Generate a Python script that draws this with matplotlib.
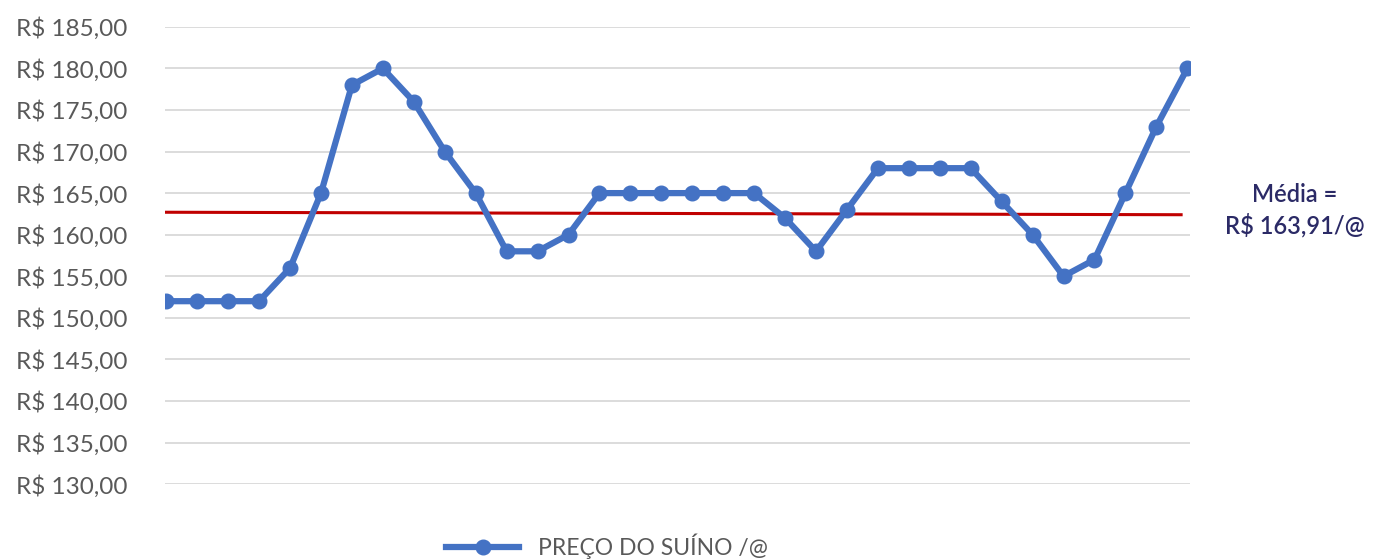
import numpy as np
import matplotlib.pyplot as plt

# preço do suíno por arroba
precos = [152, 152, 152, 152, 156, 165, 178, 180, 176, 170, 165, 158, 158, 160,
          165, 165, 165, 165, 165, 165, 162, 158, 163, 168, 168, 168, 168, 164,
          160, 155, 157, 165, 173, 180]
media_linha = [162.7, 162.4]   # linha vermelha, inicio e fim
y_ticks = [130, 135, 140, 145, 150, 155, 160, 165, 170, 175, 180, 185]
rotulo_serie = "PREÇO DO SUÍNO /@"
texto_media = "Média =\nR$ 163,91/@"

x = np.arange(len(precos))

fig = plt.figure(figsize=(13.73, 5.59), dpi=100)
ax = fig.add_axes([0.120, 0.134, 0.747, 0.818])

for yv in y_ticks:
    ax.axhline(yv, color='#d9d9d9', lw=1.3, zorder=0)

ax.plot([x[0] - 0.2, x[-1] - 0.2], media_linha, color='#c00000', lw=2.2, zorder=2)
line, = ax.plot(x, precos, '-o', color='#4472c4', lw=4.5, markersize=10.5,
                zorder=3, label=rotulo_serie)

ax.set_xlim(-0.05, len(precos) - 1 + 0.1)
ax.set_ylim(130, 185)
ax.set_yticks(y_ticks)
ax.set_yticklabels(["R$ %d,00" % v for v in y_ticks], fontsize=17.5,
                   color='#595959', family=['Lato', 'DejaVu Sans'])
ax.set_xticks([])
ax.tick_params(axis='y', length=0, pad=27)
for s in ax.spines.values():
    s.set_visible(False)

fig.text(0.943, 0.624, texto_media, ha='center', va='center', fontsize=17,
         color='#2b2a66', family=['Lato', 'DejaVu Sans'], fontweight='semibold',
         linespacing=1.3)

leg = fig.legend(handles=[line], loc='center', bbox_to_anchor=(0.442, 0.022),
                 frameon=False, handlelength=3.2,
                 prop={'family': ['Lato', 'DejaVu Sans'], 'size': 16.5})
for t in leg.get_texts():
    t.set_color('#595959')

fig.savefig('out.png', dpi=100)
